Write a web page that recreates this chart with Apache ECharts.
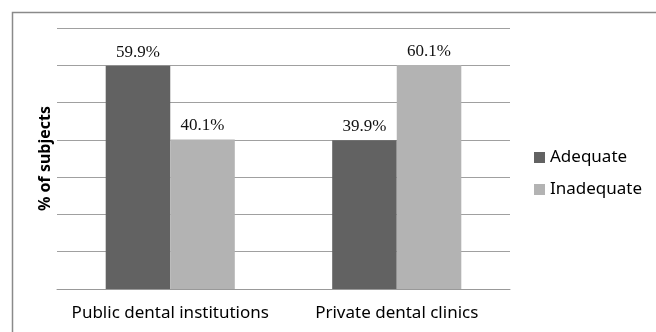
<!DOCTYPE html>
<html>
<head>
<meta charset="utf-8">
<script src="https://cdn.jsdelivr.net/npm/echarts@6/dist/echarts.min.js"></script>
<style>
	html, body { margin: 0; padding: 0; background: #fff; }
	#chart { width: 656px; height: 332px; }
</style>
</head>
<body>
<div id="chart"></div>
<script>
const categories = ["Public dental institutions", "Private dental clinics"]
const seriesNames = ["Adequate", "Inadequate"]
const adequate = [59.9, 39.9]
const inadequate = [40.1, 60.1]
const colors = ["#626262", "#b3b3b3"]

const labelStyle = {
	show: true,
	position: "top",
	distance: 5,
	formatter: "{c}%",
	fontFamily: "Liberation Serif",
	fontSize: 17,
	color: "#111",
}

const option = {
	backgroundColor: "#fff",
	animation: false,
	color: colors,
	graphic: [
		{
			type: "rect",
			shape: { x: 12.5, y: 12.5, width: 700, height: 400 },
			style: { fill: "none", stroke: "#8a8a8a", lineWidth: 1.5 },
			silent: true,
		},
	],
	legend: {
		orient: "vertical",
		left: 529,
		top: 144,
		itemWidth: 11,
		itemHeight: 11,
		itemGap: 15,
		icon: "rect",
		textStyle: {
			fontFamily: "Noto Sans",
			fontSize: 17,
			color: "#000",
		},
		data: seriesNames,
	},
	grid: {
		left: 57,
		right: 146,
		top: 28,
		bottom: 43,
	},
	xAxis: {
		type: "category",
		data: categories,
		axisLine: { lineStyle: { color: "#999", width: 1 } },
		axisTick: { length: 7, lineStyle: { color: "#999" } },
		axisLabel: {
			interval: 0,
			hideOverlap: false,
			margin: 16,
			fontFamily: "Noto Sans",
			fontSize: 17,
			color: "#000",
		},
	},
	yAxis: {
		type: "value",
		min: 0,
		max: 70,
		interval: 10,
		axisLabel: { show: false },
		axisLine: { show: false },
		axisTick: { show: false },
		splitLine: { lineStyle: { color: "#a0a0a0", width: 1 } },
		name: "% of subjects",
		nameLocation: "middle",
		nameGap: 4,
		nameTextStyle: {
			fontFamily: "Noto Sans",
			fontWeight: "bold",
			fontSize: 16,
			color: "#000",
		},
	},
	series: [
		{
			name: seriesNames[0],
			type: "bar",
			data: adequate,
			barGap: 0,
			barCategoryGap: "43%",
			label: labelStyle,
		},
		{
			name: seriesNames[1],
			type: "bar",
			data: inadequate,
			barGap: 0,
			barCategoryGap: "43%",
			label: labelStyle,
		},
	],
}

const chart = echarts.init(document.getElementById("chart"), null, { renderer: "canvas" })
chart.setOption(option)
</script>
</body>
</html>
